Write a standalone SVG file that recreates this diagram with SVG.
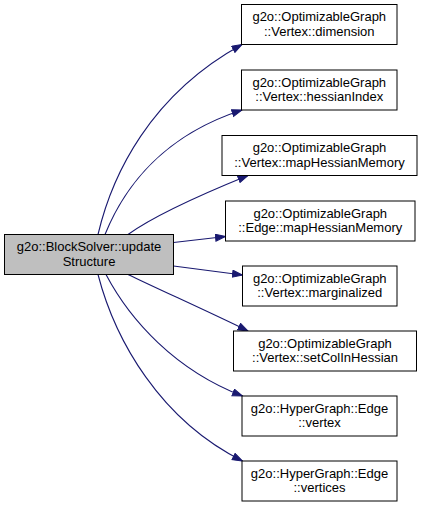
<svg xmlns="http://www.w3.org/2000/svg" width="424" height="508" viewBox="0 0 424 508">
<defs>
<style>
.node rect{fill:#ffffff;stroke:#000000;stroke-width:1}
#main rect{fill:#bfbfbf}
.node text{font-family:"Liberation Sans",Arial,Helvetica,sans-serif;font-size:13px;fill:#000000;text-anchor:middle}
.edge{fill:none;stroke:#191970;stroke-width:1.1}
</style>
<marker id="ah" markerUnits="userSpaceOnUse" markerWidth="12" markerHeight="9" refX="10.5" refY="4" orient="auto" viewBox="0 0 12 9">
<path d="M0.5,0.5 L10.5,4 L0.5,7.5 z" fill="#191970" stroke="#191970"/>
</marker>
</defs>
<rect width="424" height="508" fill="#ffffff"/>
<g id="connectors">
<path class="edge" marker-end="url(#ah)" d="M98,234.5 C112,175 150,95 242,44.5"/>
<path class="edge" marker-end="url(#ah)" d="M105,234.5 C125,185 165,135 242,110"/>
<path class="edge" marker-end="url(#ah)" d="M128,234.5 C155,215 200,195 248,175.5"/>
<path class="edge" marker-end="url(#ah)" d="M173.5,242.5 L225.5,236.5"/>
<path class="edge" marker-end="url(#ah)" d="M173.5,266 L242.5,275"/>
<path class="edge" marker-end="url(#ah)" d="M128,274.5 C160,290 205,310 248,331"/>
<path class="edge" marker-end="url(#ah)" d="M106,274.5 C130,320 175,370 242.5,396"/>
<path class="edge" marker-end="url(#ah)" d="M98,274.5 C115,340 160,420 242.5,461"/>
</g>
<g id="main" class="node">
<rect x="4.5" y="234.5" width="169" height="40"/>
<text x="89" y="251">g2o::BlockSolver::update</text>
<text x="89" y="265.5">Structure</text>
</g>
<g id="n_dimension" class="node">
<rect x="241.5" y="4.5" width="155.5" height="40"/>
<text x="319.25" y="21">g2o::OptimizableGraph</text>
<text x="319.25" y="35.5">::Vertex::dimension</text>
</g>
<g id="n_hessianIndex" class="node">
<rect x="241.5" y="70" width="155.5" height="40"/>
<text x="319.25" y="86.5">g2o::OptimizableGraph</text>
<text x="319.25" y="101">::Vertex::hessianIndex</text>
</g>
<g id="n_vmapHessian" class="node">
<rect x="222" y="135.5" width="195" height="40"/>
<text x="319.5" y="152">g2o::OptimizableGraph</text>
<text x="319.5" y="166.5">::Vertex::mapHessianMemory</text>
</g>
<g id="n_emapHessian" class="node">
<rect x="225.5" y="201" width="189.5" height="40"/>
<text x="320.25" y="217.5">g2o::OptimizableGraph</text>
<text x="320.25" y="232">::Edge::mapHessianMemory</text>
</g>
<g id="n_marginalized" class="node">
<rect x="242.5" y="266" width="154.5" height="40"/>
<text x="319.75" y="282.5">g2o::OptimizableGraph</text>
<text x="319.75" y="297">::Vertex::marginalized</text>
</g>
<g id="n_setColInHessian" class="node">
<rect x="233.5" y="331" width="183" height="40"/>
<text x="325" y="347.5">g2o::OptimizableGraph</text>
<text x="325" y="362">::Vertex::setColInHessian</text>
</g>
<g id="n_vertex" class="node">
<rect x="242" y="396" width="155" height="40"/>
<text x="319.5" y="412.5">g2o::HyperGraph::Edge</text>
<text x="319.5" y="427">::vertex</text>
</g>
<g id="n_vertices" class="node">
<rect x="242" y="461" width="155" height="40"/>
<text x="319.5" y="477.5">g2o::HyperGraph::Edge</text>
<text x="319.5" y="492">::vertices</text>
</g>
</svg>
